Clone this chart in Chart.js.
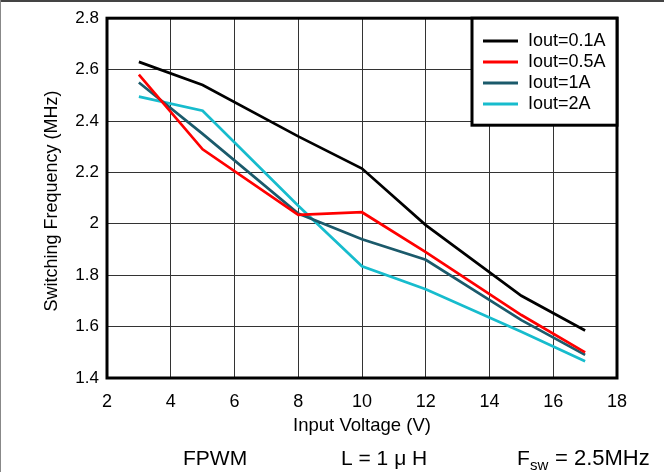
<!DOCTYPE html>
<html>
<head>
<meta charset="utf-8">
<script src="https://cdn.jsdelivr.net/npm/chart.js@4"></script>
<style>
  html, body { margin: 0; padding: 0; background: #fff; }
  #wrap { width: 664px; height: 472px; position: relative; }
</style>
</head>
<body>
<div id="wrap"><canvas id="freqChart" width="664" height="472"></canvas></div>
<script>
// values
const voltages = [3, 5, 8, 10, 12, 15, 17];
const iout01 = [2.63, 2.54, 2.34, 2.215, 1.995, 1.72, 1.585];
const iout05 = [2.58, 2.29, 2.035, 2.045, 1.89, 1.645, 1.5];
const iout1 = [2.55, 2.35, 2.04, 1.94, 1.86, 1.625, 1.49];
const iout2 = [2.495, 2.44, 2.07, 1.835, 1.745, 1.58, 1.465];

const seriesNames = ['Iout=0.1A', 'Iout=0.5A', 'Iout=1A', 'Iout=2A'];
const seriesColors = ['#000000', '#ff0000', '#1b5a6b', '#17bccd'];
const xTicks = [2, 4, 6, 8, 10, 12, 14, 16, 18];
const yTicks = [1.4, 1.6, 1.8, 2.0, 2.2, 2.4, 2.6, 2.8];

const FONT = "'Liberation Sans', Arial, Helvetica, sans-serif";

function pts(ys) {
  return voltages.map((v, i) => ({ x: v, y: ys[i] }));
}

const decorations = {
  id: 'decorations',
  afterDraw(chart) {
    const c = chart.ctx;
    const a = chart.chartArea;
    c.save();

    // outer frame of the picture (top + left)
    c.fillStyle = '#444';
    c.fillRect(0, 0, 664, 2);
    c.fillStyle = '#888';
    c.fillRect(0, 0, 1, 472);

    // plot frame
    c.strokeStyle = '#000';
    c.lineWidth = 3;
    c.strokeRect(a.left, a.top, a.right - a.left, a.bottom - a.top);

    // legend box
    const lx = 472, ly = a.top, lw = a.right - lx, lh = 107;
    c.fillStyle = '#fff';
    c.fillRect(lx, ly, lw, lh);
    c.strokeRect(lx, ly, lw, lh);
    c.font = '18px ' + FONT;
    c.textBaseline = 'middle';
    c.textAlign = 'left';
    seriesNames.forEach((name, i) => {
      const y = 41 + i * 21;
      c.strokeStyle = seriesColors[i];
      c.lineWidth = 3;
      c.beginPath();
      c.moveTo(483, y);
      c.lineTo(518, y);
      c.stroke();
      c.fillStyle = '#000';
      c.fillText(name, 528, y);
    });

    // x axis title
    c.fillStyle = '#000';
    c.textBaseline = 'alphabetic';
    c.font = '18.5px ' + FONT;
    c.textAlign = 'center';
    c.fillText('Input Voltage (V)', (a.left + a.right) / 2, 431);

    // y axis title
    c.save();
    c.translate(57, 201);
    c.rotate(-Math.PI / 2);
    c.font = '18px ' + FONT;
    c.fillText('Switching Frequency (MHz)', 0, 0);
    c.restore();

    // footer
    c.font = '21px ' + FONT;
    c.textAlign = 'left';
    c.fillText('FPWM', 183, 465);
    c.fillText('L = 1 \u03bc H', 341, 465);
    c.fillText('F', 517, 465);
    c.font = '15px ' + FONT;
    c.fillText('sw', 530, 470);
    c.font = '22px ' + FONT;
    c.fillText('= 2.5MHz', 555, 465);

    c.restore();
  }
};

const ctx = document.getElementById('freqChart').getContext('2d');
const freqChart = new Chart(ctx, {
  type: 'line',
  data: {
    datasets: seriesNames.map((name, i) => ({
      label: name,
      data: pts([iout01, iout05, iout1, iout2][i]),
      borderColor: seriesColors[i],
      backgroundColor: seriesColors[i],
      borderWidth: 2.7,
      pointRadius: 0,
      tension: 0,
      fill: false
    }))
  },
  options: {
    responsive: false,
    animation: false,
    devicePixelRatio: 1,
    layout: { padding: { left: 0, top: 18, right: 47, bottom: 0 } },
    plugins: {
      legend: { display: false },
      tooltip: { enabled: false }
    },
    scales: {
      x: {
        type: 'linear',
        min: 2,
        max: 18,
        afterFit: s => { s.height = 94; },
        afterBuildTicks: s => { s.ticks = xTicks.map(v => ({ value: v })); },
        ticks: { color: '#000', font: { family: FONT, size: 18 }, padding: 13, maxRotation: 0 },
        grid: { color: '#333', lineWidth: 1, drawTicks: false },
        border: { display: false }
      },
      y: {
        min: 1.4,
        max: 2.8,
        afterFit: s => { s.width = 107; },
        afterBuildTicks: s => { s.ticks = yTicks.map(v => ({ value: v })); },
        ticks: {
          color: '#000',
          font: { family: FONT, size: 17 },
          padding: 8,
          callback: v => String(Number(v.toFixed(1)))
        },
        grid: { color: '#333', lineWidth: 1, drawTicks: false },
        border: { display: false }
      }
    }
  },
  plugins: [decorations]
});
</script>
</body>
</html>
